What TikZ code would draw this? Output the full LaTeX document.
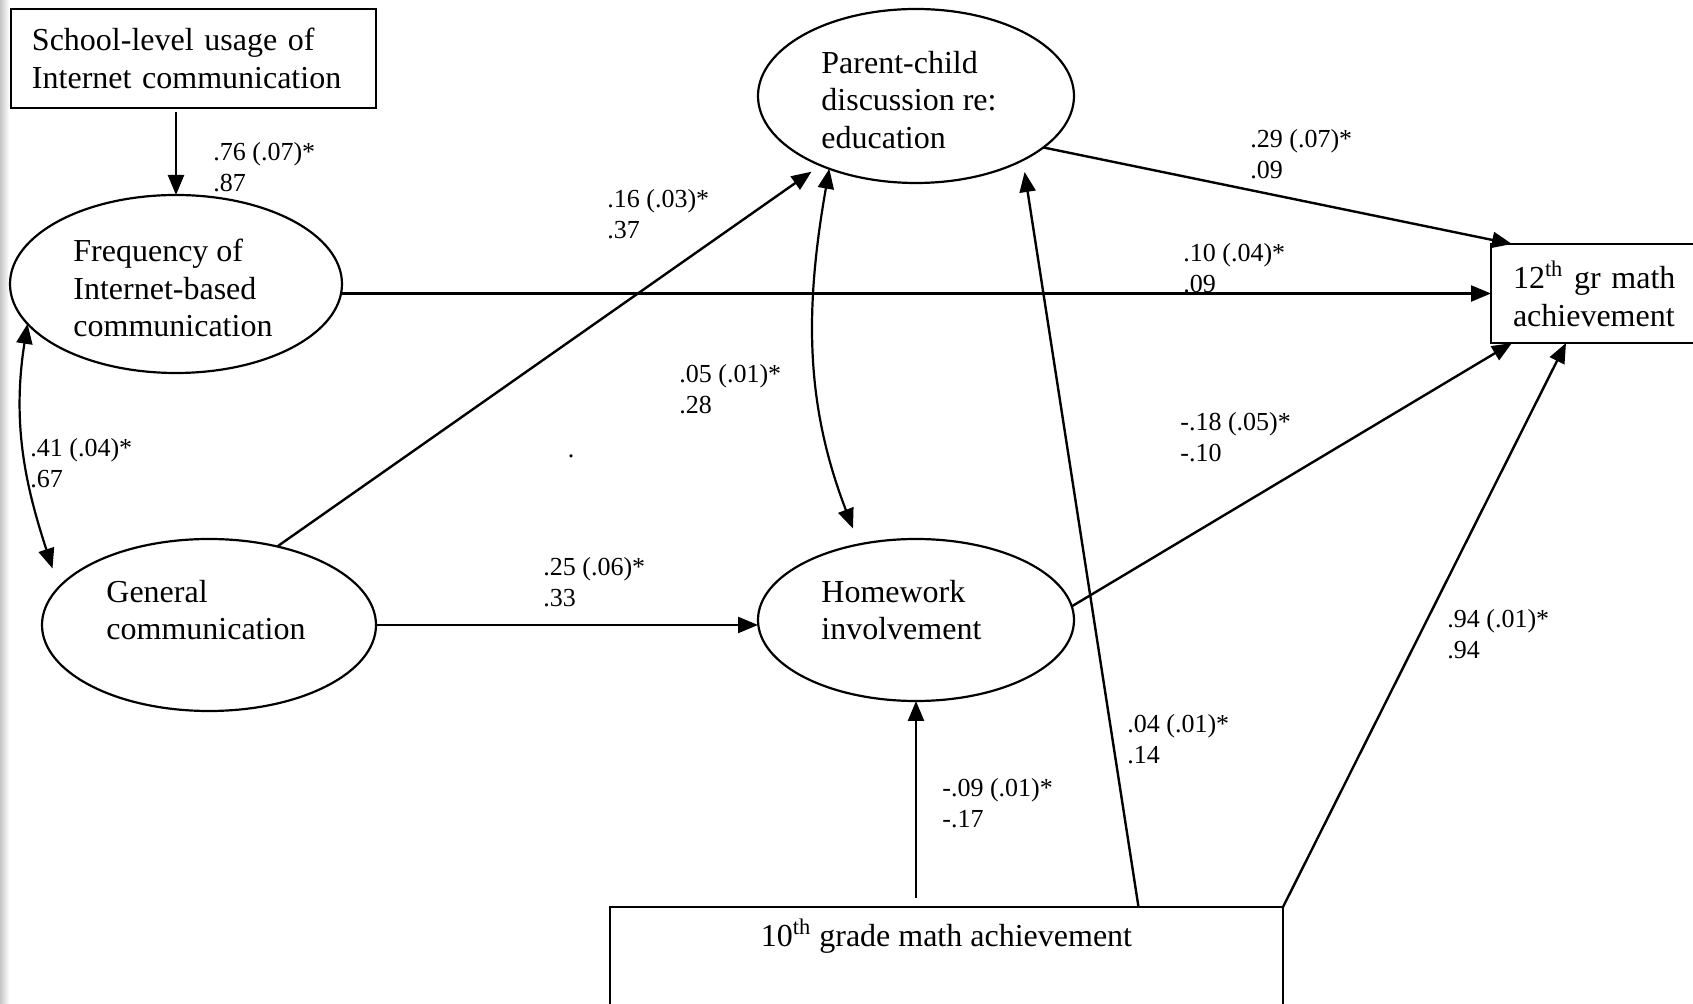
\documentclass[tikz,border=0pt]{standalone}
\usepackage{fontspec}
\setmainfont{Liberation Serif}
\usetikzlibrary{shapes.geometric,arrows.meta}

\begin{document}
\begin{tikzpicture}[x=0.5pt, y=-0.5pt,
    latent/.style={draw, ellipse, line width=1.1pt, inner sep=0pt, outer sep=0pt},
    observed/.style={draw, rectangle, line width=1.1pt, inner sep=0pt, outer sep=0pt, align=left,
      font=\fontsize{16}{18.8}\selectfont},
    vartext/.style={align=left, anchor=west, inner sep=0pt, font=\fontsize{16}{18.8}\selectfont},
    coef/.style={align=left, anchor=north west, inner sep=0pt, font=\fontsize{13}{15.3}\selectfont},
    effect/.style={-{Triangle[length=10pt,width=8pt]}, line width=1.2pt},
    covar/.style={{Triangle[length=10pt,width=8pt]}-{Triangle[length=10pt,width=8pt]}, line width=1.1pt}]
                \useasboundingbox (0,0) rectangle (1693,1004);
                \clip (0,0) rectangle (1693,1004);
                \shade[left color=gray!45, right color=white] (0,0) rectangle (9,1004);
                % boxes
                \node[observed, anchor=north west, minimum height=49.5pt, text width=161.5pt, inner xsep=10.5pt] (school) at (11,9) {School-level usage of\\Internet communication};
                \node[observed, anchor=north west, minimum height=49.5pt, text width=100pt, inner xsep=11pt] (grade12) at (1491,244) {12\textsuperscript{th} gr math\\achievement};
                \node[observed, anchor=north, minimum width=336.5pt, text height=20pt, text depth=50pt] (grade10) at (946.5,907) {10\textsuperscript{th} grade math achievement};
                % ellipses
                \node[latent, minimum width=166pt, minimum height=89pt] (freq) at (176,284) {};
                \node[latent, minimum width=167pt, minimum height=86pt] (gen) at (209,625) {};
                \node[latent, minimum width=158pt, minimum height=87pt] (parent) at (916,96) {};
                \node[latent, minimum width=158pt, minimum height=81pt] (hw) at (916,620) {};
                \node[vartext] (freqtxt) at (73,288) {Frequency of\\Internet-based\\communication};
                \node[vartext] (gentxt) at (106,610) {General\\communication};
                \node[vartext] (partxt) at (821,100) {Parent-child\\discussion re:\\education};
                \node[vartext] (hwtxt) at (821,610) {Homework\\involvement};
                % paths
                \draw[effect, shorten <=2pt] (school.south -| freq.north) -- (freq.north);
                \draw[covar, shorten >=10pt] (freq.195) to[out=261, in=108] (gen.166);
                \draw[effect] (freq.east |- grade12.west) -- (grade12.west);
                \draw[effect, shorten >=5.5pt] (gen.49) -- (parent.216);
                \draw[effect] (gen.east) -- (gen.east -| hw.west);
                \draw[covar, shorten >=8.5pt] (parent.220) to[out=260, in=111] (hw.127);
                \draw[effect] (parent.338) -- ([xshift=10.5pt]grade12.north west);
                \draw[effect] (hw.5) -- ([xshift=10.5pt]grade12.south west);
                \draw[effect, shorten <=4.5pt] (grade10.north -| hw.south) -- (hw.south);
                \draw[effect, shorten >=6pt] ([xshift=96pt]grade10.north) -- (parent.329);
                \draw[effect] (grade10.north east) -- ([xshift=37.5pt]grade12.south west);
                % coefficients
                \node[coef] (c1) at (213,142) {.76 (.07)*\\.87};
                \node[coef] (c2) at (30,438) {.41 (.04)*\\.67};
                \node[coef] (c3) at (1183,243) {.10 (.04)*\\.09};
                \node[coef] (c4) at (607,189) {.16 (.03)*\\.37};
                \node[coef] (c5) at (543,557) {.25 (.06)*\\.33};
                \node[coef] (c6) at (679,364) {.05 (.01)*\\.28};
                \node[coef] (c7) at (1250,129) {.29 (.07)*\\.09};
                \node[coef] (c8) at (1180,412) {-.18 (.05)*\\-.10};
                \node[coef] (c9) at (942,778) {-.09 (.01)*\\-.17};
                \node[coef] (c10) at (1127,714) {.04 (.01)*\\.14};
                \node[coef] (c11) at (1447,609) {.94 (.01)*\\.94};
                \node[coef, anchor=center] (dot) at (571,456) {.};
            \end{tikzpicture}
\end{document}
